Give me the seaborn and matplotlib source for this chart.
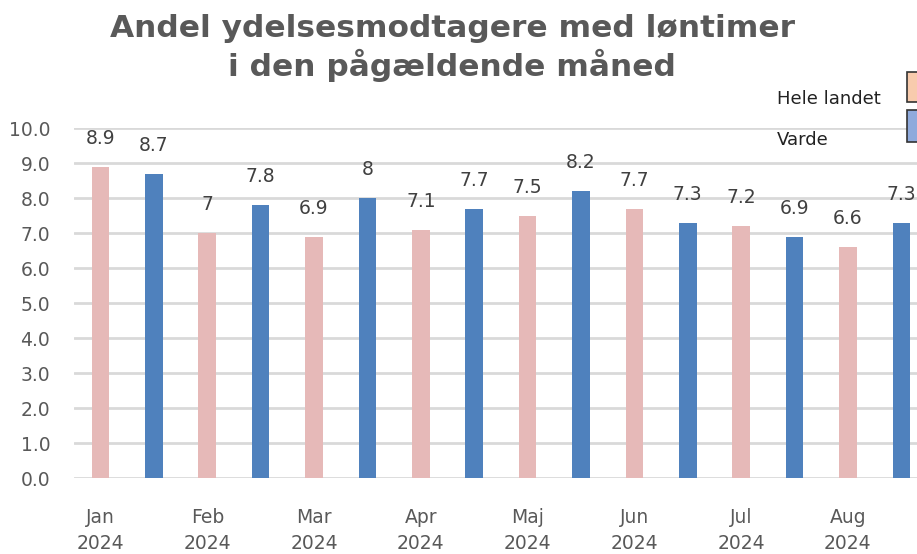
import pandas as pd
import matplotlib.pyplot as plt
import seaborn as sns
from matplotlib.patches import Rectangle

# data
months = ['Jan\n2024', 'Feb\n2024', 'Mar\n2024', 'Apr\n2024',
          'Maj\n2024', 'Jun\n2024', 'Jul\n2024', 'Aug\n2024']
hele_landet = [8.9, 7, 6.9, 7.1, 7.5, 7.7, 7.2, 6.6]
varde = [8.7, 7.8, 8, 7.7, 8.2, 7.3, 6.9, 7.3]
series_names = ['Hele landet', 'Varde']

# bars alternate: Hele landet, Varde, Hele landet, ...
rows = []
for i in range(len(months)):
    rows.append({'pos': 2 * i, 'value': hele_landet[i], 'serie': series_names[0]})
    rows.append({'pos': 2 * i + 1, 'value': varde[i], 'serie': series_names[1]})
df = pd.DataFrame(rows)

sns.set_theme(style="white")
plt.rcParams['font.family'] = ['DejaVu Sans']

grey = '#595959'
bar_colors = {'Hele landet': '#E6B9B8', 'Varde': '#4F81BD'}

fig = plt.figure(figsize=(9.17, 5.54), dpi=100)
ax = fig.add_axes([0.0805, 0.1363, 0.9315, 0.6318])

sns.barplot(data=df, x='pos', y='value', hue='serie', dodge=False, width=0.33,
            palette=bar_colors, saturation=1, legend=False, linewidth=0,
            ax=ax, zorder=3)

ax.set_ylim(0, 10)
ax.set_xlim(-0.5, 15.5)
ax.set_yticks(range(0, 11))
ax.set_yticklabels([f'{v:.1f}' for v in range(0, 11)], fontsize=13.5, color=grey)
ax.set_xticks(range(0, 16, 2))
ax.set_xticklabels(months, fontsize=13.5, color=grey, linespacing=1.5)
ax.tick_params(axis='x', length=0, pad=21)
ax.tick_params(axis='y', length=0, pad=17)
ax.set_xlabel('')
ax.set_ylabel('')
ax.grid(True, axis='y', color='#D9D9D9', linewidth=2, zorder=0)
for s in ax.spines.values():
    s.set_visible(False)

# value labels
for _, r in df.iterrows():
    ax.annotate(f"{r['value']:g}", (r['pos'], r['value']), xytext=(0, 14),
                textcoords='offset points', ha='center', va='bottom',
                fontsize=13.5, color='#404040')

fig.text(0.493, 1 - 48 / 554, 'Andel ydelsesmodtagere med løntimer\ni den pågældende måned',
         ha='center', va='center', fontsize=22.5, fontweight='bold', color=grey,
         linespacing=1.25)

# legend (cut off at right edge like the original)
fig.text(777 / 917, 1 - 99 / 554, 'Hele landet', fontsize=13, color='#222222',
         ha='left', va='center')
fig.text(777 / 917, 1 - 140 / 554, 'Varde', fontsize=13, color='#222222',
         ha='left', va='center')
fig.patches.append(Rectangle((907 / 917, 1 - 102 / 554), 30 / 917, 30 / 554,
                             transform=fig.transFigure, facecolor='#F8CBAD',
                             edgecolor='#333333', linewidth=1.2))
fig.patches.append(Rectangle((907 / 917, 1 - 142 / 554), 30 / 917, 32 / 554,
                             transform=fig.transFigure, facecolor='#8FAADC',
                             edgecolor='#333333', linewidth=1.2))

fig.savefig('out.png', dpi=100)
